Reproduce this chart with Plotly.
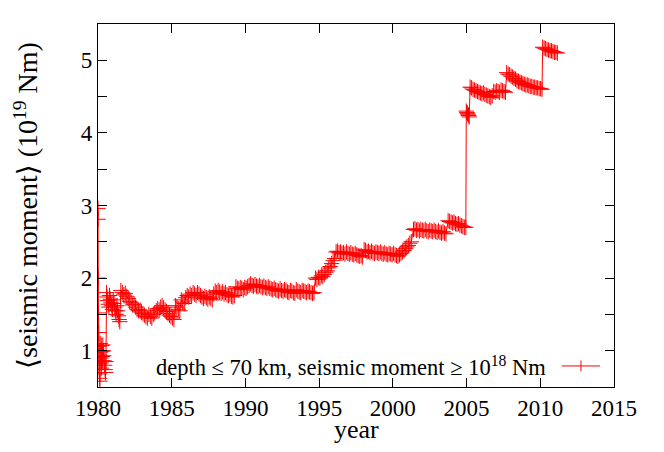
import plotly.graph_objects as go

# ---- data ----
years = [
    1980.00, 1980.01, 1980.02, 1980.03, 1980.04, 1980.05, 1980.06, 1980.07, 1980.08, 1980.10,
    1980.11, 1980.13, 1980.15, 1980.17, 1980.19, 1980.21, 1980.23, 1980.25, 1980.27, 1980.29,
    1980.31, 1980.33, 1980.36, 1980.39, 1980.42, 1980.45, 1980.48, 1980.51, 1980.54,
    1980.58, 1980.62, 1980.66, 1980.70, 1980.74, 1980.78, 1980.83, 1980.88, 1980.93, 1980.98,
    1981.03, 1981.08, 1981.13, 1981.18, 1981.23, 1981.28, 1981.33, 1981.38, 1981.43, 1981.48,
    1981.55, 1981.65, 1981.75, 1981.85, 1981.95, 1982.05, 1982.15, 1982.25, 1982.35, 1982.45,
    1982.55, 1982.65, 1982.75, 1982.85, 1982.95, 1983.05,
    1983.15, 1983.25, 1983.35, 1983.45, 1983.55, 1983.65, 1983.75, 1983.85,
    1983.95, 1984.05, 1984.15, 1984.25, 1984.35, 1984.45, 1984.55, 1984.65, 1984.75, 1984.85,
    1984.95, 1985.05, 1985.15,
    1985.25, 1985.35, 1985.45, 1985.55, 1985.65, 1985.75, 1985.85, 1985.95, 1986.05, 1986.15,
    1986.25, 1986.35, 1986.45, 1986.55, 1986.65, 1986.75, 1986.85, 1986.95, 1987.05, 1987.15,
    1987.25, 1987.35, 1987.45, 1987.55, 1987.65, 1987.75, 1987.85, 1987.95, 1988.05, 1988.15,
    1988.25, 1988.35, 1988.45, 1988.55, 1988.65, 1988.75, 1988.85, 1988.95, 1989.05, 1989.15,
    1989.25,
    1989.35, 1989.45, 1989.55, 1989.65, 1989.75, 1989.85, 1989.95, 1990.05, 1990.15, 1990.25,
    1990.35, 1990.45, 1990.55, 1990.65, 1990.75, 1990.85, 1990.95, 1991.05, 1991.15, 1991.25,
    1991.35, 1991.45, 1991.55, 1991.65, 1991.75, 1991.85, 1991.95, 1992.05, 1992.15, 1992.25,
    1992.35, 1992.45, 1992.55, 1992.65, 1992.75, 1992.85, 1992.95, 1993.05, 1993.15, 1993.25,
    1993.35, 1993.45, 1993.55, 1993.65, 1993.75, 1993.85, 1993.95, 1994.05, 1994.15, 1994.25,
    1994.35, 1994.45, 1994.55, 1994.65,
    1994.75, 1994.85, 1994.95, 1995.05, 1995.15, 1995.25, 1995.35, 1995.45, 1995.55, 1995.65,
    1995.75, 1995.85, 1995.95, 1996.05,
    1996.15, 1996.25, 1996.35, 1996.45, 1996.55, 1996.65, 1996.75, 1996.85, 1996.95, 1997.05,
    1997.15, 1997.25, 1997.35, 1997.45, 1997.55, 1997.65, 1997.75, 1997.85, 1997.95,
    1998.05, 1998.15, 1998.25, 1998.35, 1998.45, 1998.55, 1998.65, 1998.75, 1998.85, 1998.95,
    1999.05, 1999.15, 1999.25, 1999.35, 1999.45, 1999.55, 1999.65, 1999.75, 1999.85, 1999.95,
    2000.05, 2000.15, 2000.25, 2000.35, 2000.45,
    2000.55, 2000.65, 2000.75, 2000.85, 2000.95, 2001.05, 2001.15, 2001.25,
    2001.40, 2001.50, 2001.60, 2001.70, 2001.80, 2001.90, 2002.00, 2002.10, 2002.20, 2002.30,
    2002.40, 2002.50, 2002.60, 2002.70, 2002.80, 2002.90, 2003.00, 2003.10, 2003.20, 2003.30,
    2003.40, 2003.50, 2003.60,
    2003.75, 2003.85, 2003.95, 2004.05, 2004.15, 2004.25, 2004.35, 2004.45, 2004.55, 2004.65,
    2004.75, 2004.85, 2004.95,
    2004.98, 2005.02, 2005.06, 2005.10, 2005.14, 2005.18,
    2005.24, 2005.34, 2005.44, 2005.54, 2005.64, 2005.74, 2005.84, 2005.94, 2006.04, 2006.14,
    2006.24, 2006.34, 2006.44, 2006.54, 2006.64, 2006.74, 2006.84, 2006.94, 2007.04, 2007.14,
    2007.24, 2007.34, 2007.44, 2007.54, 2007.64,
    2007.72, 2007.82, 2007.92, 2008.02, 2008.12, 2008.22, 2008.32, 2008.42, 2008.52, 2008.62,
    2008.72, 2008.82, 2008.92, 2009.02, 2009.12, 2009.22, 2009.32, 2009.42, 2009.52, 2009.62,
    2009.72, 2009.82, 2009.92, 2010.02, 2010.12,
    2010.16, 2010.26, 2010.36, 2010.46, 2010.56, 2010.66, 2010.76, 2010.86, 2010.96, 2011.06,
    2011.16,
]

mean_moment = [
    2.96, 2.81, 2.00, 1.52, 1.25, 1.06, 0.93, 0.82, 0.74, 0.68,
    0.62, 0.58, 1.10, 0.98, 0.90, 0.83, 0.76, 1.07, 0.99, 0.92,
    0.86, 1.08, 1.00, 0.93, 0.86, 0.80, 0.74, 0.70, 0.85,
    1.80, 1.74, 1.69, 1.64, 1.60, 1.76, 1.71, 1.66, 1.62, 1.57,
    1.70, 1.65, 1.60, 1.55, 1.50, 1.62, 1.55, 1.48, 1.43, 1.40,
    1.83, 1.80, 1.77, 1.79, 1.75, 1.72, 1.68, 1.66, 1.63, 1.64,
    1.60, 1.57, 1.55, 1.56, 1.53, 1.51,
    1.49, 1.47, 1.45, 1.50, 1.47, 1.45, 1.50, 1.52,
    1.55, 1.58, 1.56, 1.60, 1.62, 1.59, 1.56, 1.54, 1.51, 1.49,
    1.47, 1.45, 1.43,
    1.62, 1.60, 1.57, 1.55, 1.70, 1.67, 1.65, 1.73, 1.76, 1.74,
    1.78, 1.76, 1.80, 1.78, 1.76, 1.80, 1.78, 1.76, 1.74, 1.72,
    1.75, 1.73, 1.71, 1.74, 1.72, 1.70, 1.78, 1.82, 1.80, 1.83,
    1.81, 1.79, 1.81, 1.78, 1.80, 1.77, 1.76, 1.78, 1.75, 1.74,
    1.76,
    1.88, 1.86, 1.85, 1.87, 1.86, 1.84, 1.87, 1.86, 1.88, 1.90,
    1.92, 1.90, 1.89, 1.91, 1.89, 1.88, 1.90, 1.88, 1.87, 1.89,
    1.87, 1.86, 1.88, 1.86, 1.85, 1.84, 1.86, 1.84, 1.83, 1.82,
    1.85, 1.83, 1.82, 1.84, 1.83, 1.81, 1.80, 1.83, 1.82, 1.80,
    1.79, 1.84, 1.82, 1.81, 1.80, 1.83, 1.82, 1.81, 1.80, 1.82,
    1.81, 1.80, 1.79, 1.80,
    2.00, 1.98, 2.01, 2.00, 2.03, 2.02, 2.05, 2.08, 2.10, 2.14,
    2.16, 2.20, 2.24, 2.27,
    2.36, 2.37, 2.35, 2.36, 2.34, 2.35, 2.33, 2.36, 2.34, 2.33,
    2.35, 2.33, 2.32, 2.34, 2.32, 2.31, 2.30, 2.31, 2.29,
    2.39, 2.38, 2.36, 2.37, 2.35, 2.37, 2.35, 2.34, 2.36, 2.35,
    2.34, 2.36, 2.34, 2.33, 2.35, 2.33, 2.32, 2.34, 2.33, 2.32,
    2.34, 2.32, 2.31, 2.30, 2.32,
    2.34, 2.36, 2.38, 2.41, 2.43, 2.45, 2.48, 2.50,
    2.67, 2.68, 2.66, 2.67, 2.65, 2.67, 2.66, 2.65, 2.67, 2.65,
    2.64, 2.66, 2.65, 2.64, 2.66, 2.64, 2.63, 2.65, 2.63, 2.62,
    2.64, 2.62, 2.61,
    2.79, 2.78, 2.77, 2.76, 2.77, 2.75, 2.74, 2.75, 2.73, 2.72,
    2.71, 2.70, 2.70,
    4.30, 4.28, 4.27, 4.25, 4.24, 4.22,
    4.63, 4.62, 4.60, 4.59, 4.58, 4.57, 4.56, 4.55, 4.54, 4.55,
    4.53, 4.52, 4.51, 4.50, 4.49, 4.51, 4.57, 4.56, 4.58, 4.57,
    4.56, 4.59, 4.58, 4.57, 4.56,
    4.83, 4.81, 4.80, 4.78, 4.77, 4.75, 4.74, 4.72, 4.71, 4.70,
    4.69, 4.68, 4.67, 4.66, 4.66, 4.65, 4.64, 4.64, 4.63, 4.63,
    4.62, 4.62, 4.61, 4.61, 4.60,
    5.18, 5.17, 5.16, 5.15, 5.14, 5.13, 5.13, 5.12, 5.11, 5.11,
    5.10,
]

x_ticks = [1980, 1985, 1990, 1995, 2000, 2005, 2010, 2015]
y_ticks = [1, 1.5, 2, 2.5, 3, 3.5, 4, 4.5, 5]
y_ticktext = ["1", " ", "2", " ", "3", " ", "4", " ", "5"]
series_label = "depth ≤ 70 km, seismic moment ≥ 10<sup>18</sup> Nm"
x_title = "year"
y_title = ('<span style="font-family:DejaVu Serif">⟨</span>seismic moment'
           '<span style="font-family:DejaVu Serif">⟩</span> (10<sup>19</sup> Nm)')

RED = "#ff0000"
FONT = "Liberation Serif"

fig = go.Figure()
fig.add_trace(go.Scatter(
    x=years, y=mean_moment, mode="lines+markers",
    line=dict(color=RED, width=1),
    marker=dict(symbol="cross-thin", size=11, line=dict(color=RED, width=1), color=RED),
    showlegend=False,
))

axis_common = dict(
    showgrid=False, zeroline=False, showline=True, linecolor="black", linewidth=1.3,
    mirror="allticks", ticks="inside", ticklen=9, tickwidth=1.3, tickcolor="black",
    tickfont=dict(family=FONT, size=23, color="black"),
)

# page body has an 8px margin, so the figure is sized/margined to compensate
fig.update_layout(
    width=656, height=444,
    margin=dict(l=90, r=50, t=16, b=65),
    paper_bgcolor="white", plot_bgcolor="white",
    font=dict(family=FONT, color="black"),
    xaxis=dict(range=[1980, 2015], tickvals=x_ticks, ticktext=[str(v) for v in x_ticks],
               **axis_common),
    yaxis=dict(range=[0.5, 5.5], tickvals=y_ticks, ticktext=y_ticktext,
               title=dict(text=y_title, font=dict(family=FONT, size=28), standoff=34),
               **axis_common),
)

# x-axis title placed just below the tick labels
fig.add_annotation(xref="paper", yref="paper", x=0.5, y=-0.118, xanchor="center",
                   yanchor="middle", text=x_title, showarrow=False,
                   font=dict(family=FONT, size=26, color="black"))

# gnuplot-style key: text, then sample line with a cross on the right
fig.add_annotation(xref="paper", yref="paper", x=0.872, y=0.058, xanchor="right",
                   yanchor="middle", text=series_label, showarrow=False,
                   font=dict(family=FONT, size=22.5, color="black"))
fig.add_shape(type="line", xref="paper", yref="paper", x0=0.899, x1=0.973,
              y0=0.058, y1=0.058, line=dict(color=RED, width=1))
fig.add_shape(type="line", xref="paper", yref="paper", x0=0.936, x1=0.936,
              y0=0.058 - 0.0152, y1=0.058 + 0.0152, line=dict(color=RED, width=1))

fig.write_html("out.html")
